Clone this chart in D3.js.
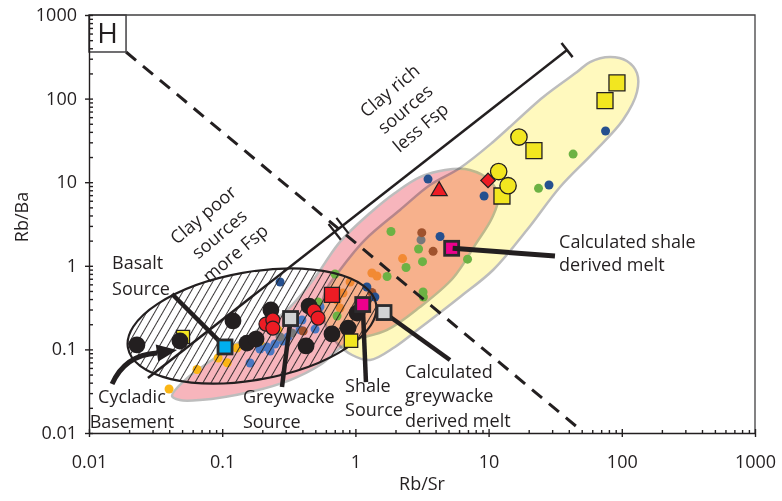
<!DOCTYPE html>
<html>
<head>
<meta charset="utf-8">
<script src="https://cdn.jsdelivr.net/npm/d3@7"></script>
<style>
  body { margin: 0; background: #fff; }
  svg { display: block; }
  text { font-family: "Open Sans", sans-serif; fill: #231f20; }
</style>
</head>
<body>
<svg id="chart" width="782" height="501"></svg>
<script>
// ---- axis ticks ----
const xTicks = [0.01, 0.1, 1, 10, 100, 1000];
const xTickLabels = ["0.01", "0.1", "1", "10", "100", "1000"];
const yTicks = [0.01, 0.1, 1, 10, 100, 1000];
const yTickLabels = ["0.01", "0.1", "1", "10", "100", "1000"];

// ---- fields (Rb/Sr, Rb/Ba) ----
const yellowField = [
  [81.6, 315], [57.7, 274], [46.1, 208], [25.6, 104], [10.8, 30.3], [6.10, 14.8],
  [3.63, 9.25], [2.16, 4.65], [1.18, 2.04], [0.766, 0.891], [0.592, 0.486], [0.561, 0.296],
  [0.612, 0.180], [0.728, 0.119], [0.944, 0.0857], [1.29, 0.0746], [1.98, 0.107],
  [3.05, 0.180], [6.10, 0.424], [10.8, 0.891], [19.4, 2.68], [34.4, 8.77], [60.8, 22.3],
  [102, 55.5], [130, 120], [130, 202], [109, 282]
];
const pinkField = [
  [0.042, 0.0277], [0.0526, 0.043], [0.0883, 0.0789], [0.162, 0.149], [0.296, 0.28],
  [0.481, 0.676], [0.766, 1.93], [1.29, 4.28], [1.98, 7.43], [3.05, 11.5], [4.71, 14.0],
  [7.24, 14.0], [10.3, 10.3], [11.8, 6.47], [10.6, 3.73], [7.91, 1.77], [5.41, 0.715],
  [3.05, 0.321], [1.73, 0.171], [0.865, 0.119], [0.542, 0.065], [0.323, 0.043],
  [0.162, 0.031], [0.068, 0.0248], [0.048, 0.0248]
];
const hatchedCentre = [0.1675, 0.1905];

// ---- reference lines ----
const clayLine = [[0.0277, 0.0455], [38.8, 381]];
const dashLine = [[0.01897, 361], [46.1, 0.0118]];

// ---- small dots ----
const darkBlueDots = [[75.5, 41.0], [28.4, 9.25], [9.25, 6.84], [3.51, 10.9], [4.32, 2.24], [1.22, 0.557], [1.40, 0.424], [0.272, 0.640]];
const greenDots = [[43.1, 21.7], [23.7, 8.45], [1.85, 2.57], [2.98, 1.59], [3.19, 1.12], [2.40, 0.955], [1.73, 0.745], [6.95, 1.20], [3.22, 0.486], [3.24, 0.424], [0.703, 0.798], [0.524, 0.369], [0.728, 0.251]];
const orangeDots = [[2.26, 1.22], [1.33, 0.820], [1.45, 0.755], [0.912, 0.640], [0.807, 0.473], [0.728, 0.390], [0.766, 0.313]];
const brownDots = [[3.15, 2.49], [3.83, 1.49], [1.33, 0.480], [0.405, 0.166]];
const grayDots = [[3.11, 2.04], [0.272, 0.141], [0.334, 0.157]];
const goldDots = [[0.0399, 0.0336], [0.0647, 0.0574], [0.0932, 0.0789], [0.109, 0.0693], [0.129, 0.104], [0.195, 0.113], [0.262, 0.171]];
const blueDots = [[0.162, 0.0687], [0.192, 0.101], [0.217, 0.107], [0.249, 0.116], [0.286, 0.126], [0.352, 0.207], [0.384, 0.171], [0.498, 0.175], [0.542, 0.324], [0.397, 0.225], [0.312, 0.141], [0.229, 0.0957]];

// ---- big symbols ----
const blackCircles = [[0.0229, 0.113], [0.0482, 0.126], [0.1205, 0.219], [0.1535, 0.119], [0.1795, 0.133], [0.232, 0.296], [0.426, 0.110], [0.449, 0.330], [0.667, 0.153], [0.881, 0.180], [1.03, 0.272]];
const redCircles = [[0.213, 0.201], [0.240, 0.225], [0.240, 0.180], [0.489, 0.288], [0.524, 0.237]];
const redSquares = [[0.667, 0.448]];
const redTriangles = [[4.25, 7.85]];
const redDiamonds = [[9.9, 10.5]];
const yellowSquares = [[92, 154], [74.8, 94.4], [21.9, 23.8], [12.6, 6.84]];
const yellowSmallSquares = [[0.927, 0.127]];
const yellowUnderSquares = [[0.0508, 0.141]];
const yellowCircles = [[16.9, 34.7], [11.9, 13.4], [14.0, 9.08]];

// sources and calculated melts
const sources = [
  { key: "basalt", x: 0.105, y: 0.107 },
  { key: "greywacke", x: 0.326, y: 0.234 },
  { key: "shale", x: 1.135, y: 0.344 },
  { key: "calcGreywacke", x: 1.64, y: 0.276 },
  { key: "calcShale", x: 5.28, y: 1.62 }
];
const leaders = [
  { key: "basalt", from: [0.042, 0.460] },
  { key: "greywacke", from: [0.281, 0.0355] },
  { key: "shale", from: [1.20, 0.0407] },
  { key: "calcGreywacke", from: [5.13, 0.0746] }
];
const shaleMeltLeader = { key: "calcShale", from: [31.5, 1.31] };
const basementArrow = [[0.0149, 0.0385], [0.0186, 0.0857], [0.0324, 0.0906], [0.0458, 0.0984]];

// ---- text ----
const labels = [
  { lines: ["Basalt", "Source"], at: [0.0149, 0.916], anchor: "start", lh: 26 },
  { lines: ["Cycladic", "Basement"], at: [0.021, 0.0229], anchor: "middle", lh: 25 },
  { lines: ["Greywacke", "Source"], at: [0.143, 0.0229], anchor: "start", lh: 25 },
  { lines: ["Shale", "Source"], at: [0.836, 0.0309], anchor: "start", lh: 24 },
  { lines: ["Calculated", "greywacke", "derived melt"], at: [2.36, 0.0455], anchor: "start", lh: 24.5 },
  { lines: ["Calculated shale", "derived melt"], at: [33.8, 1.63], anchor: "start", lh: 22.5 }
];
const slantLabels = [
  { lines: ["Clay rich", "sources", "less Fsp"], at: [2.36, 75.1], lh: 24 },
  { lines: ["Clay poor", "sources", "more Fsp"], at: [0.095, 2.40], lh: 25 }
];

const INK = "#231f20";
const sourceFill = { basalt: "#00aeef", greywacke: "#d1d3d4", shale: "#ec008c", calcGreywacke: "#d1d3d4", calcShale: "#ec008c" };

const svg = d3.select("#chart");
const x = d3.scaleLog().domain([0.01, 1000]).range([89, 755]);
const y = d3.scaleLog().domain([0.01, 1000]).range([433, 15]);
const px = d => x(d[0]), py = d => y(d[1]);

const defs = svg.append("defs");
defs.append("pattern")
    .attr("id", "hatch")
    .attr("width", 7).attr("height", 7)
    .attr("patternUnits", "userSpaceOnUse")
    .attr("patternTransform", "rotate(40)")
  .append("line")
    .attr("x1", 3.5).attr("x2", 3.5).attr("y1", -1).attr("y2", 8)
    .attr("stroke", INK).attr("stroke-width", 0.9);

// Fields: pink multiplied over yellow gives the orange overlap
const fieldLine = d3.line().x(px).y(py).curve(d3.curveCatmullRomClosed.alpha(0.5));
svg.append("path").attr("d", fieldLine(yellowField))
    .attr("fill", "#fff9be").attr("stroke", "#bdbdbd").attr("stroke-width", 2.5);
svg.append("path").attr("d", fieldLine(pinkField))
    .attr("fill", "#f7b5bc").attr("stroke", "#bdbdbd").attr("stroke-width", 2.5)
    .style("mix-blend-mode", "multiply");

// Small dots
function dots(data, color) {
    svg.append("g").selectAll("circle").data(data).join("circle")
        .attr("cx", px).attr("cy", py).attr("r", 4.5).attr("fill", color);
}
dots(goldDots, "#fbb616");
dots(blueDots, "#4a78c2");
dots(grayDots, "#77787b");
dots(brownDots, "#a0522d");
dots(orangeDots, "#f28a34");
dots(greenDots, "#6cb244");
dots(darkBlueDots, "#26508f");

// Hatched ellipse
const ec = [x(hatchedCentre[0]), y(hatchedCentre[1])];
svg.append("ellipse")
    .attr("cx", ec[0]).attr("cy", ec[1]).attr("rx", 126).attr("ry", 54)
    .attr("transform", `rotate(-10 ${ec[0]} ${ec[1]})`)
    .attr("fill", "url(#hatch)").attr("stroke", INK).attr("stroke-width", 2.2);

// Reference lines
const seg = d3.line().x(px).y(py);
svg.append("path").attr("d", seg(clayLine)).attr("stroke", INK).attr("stroke-width", 2.5).attr("fill", "none");
svg.append("path").attr("d", seg(dashLine)).attr("stroke", INK).attr("stroke-width", 3)
    .attr("stroke-dasharray", "13,9").attr("fill", "none");

// end bar on the clay line
const c0 = [px(clayLine[0]), py(clayLine[0])], c1 = [px(clayLine[1]), py(clayLine[1])];
const cl = Math.hypot(c1[0] - c0[0], c1[1] - c0[1]);
const cu = [(c1[0] - c0[0]) / cl, (c1[1] - c0[1]) / cl];
const cn = [-cu[1], cu[0]];
svg.append("line")
    .attr("x1", c1[0] - cn[0] * 9).attr("y1", c1[1] - cn[1] * 9)
    .attr("x2", c1[0] + cn[0] * 9).attr("y2", c1[1] + cn[1] * 9)
    .attr("stroke", INK).attr("stroke-width", 2.5);

// break marks where the two lines cross
const d0 = [px(dashLine[0]), py(dashLine[0])], d1 = [px(dashLine[1]), py(dashLine[1])];
const den = (c1[0] - c0[0]) * (d1[1] - d0[1]) - (c1[1] - c0[1]) * (d1[0] - d0[0]);
const tt = ((d0[0] - c0[0]) * (d1[1] - d0[1]) - (d0[1] - c0[1]) * (d1[0] - d0[0])) / den;
const ix = [c0[0] + tt * (c1[0] - c0[0]), c0[1] + tt * (c1[1] - c0[1])];
[-5, 5].forEach(o => {
    const m = [ix[0] + cu[0] * o, ix[1] + cu[1] * o];
    svg.append("line")
        .attr("x1", m[0] - cn[0] * 10).attr("y1", m[1] - cn[1] * 10)
        .attr("x2", m[0] + cn[0] * 10).attr("y2", m[1] + cn[1] * 10)
        .attr("stroke", INK).attr("stroke-width", 2.2);
});

// Big symbols
function symbols(data, type, size, fill, stroke, sw, rot) {
    svg.append("g").selectAll("path").data(data).join("path")
        .attr("d", d3.symbol().type(type).size(size))
        .attr("transform", d => `translate(${px(d)},${py(d)})${rot ? ` rotate(${rot})` : ""}`)
        .attr("fill", fill).attr("stroke", stroke).attr("stroke-width", sw);
}
symbols(yellowUnderSquares, d3.symbolSquare, 170, "#f2e620", INK, 1.3);
symbols(blackCircles, d3.symbolCircle, Math.PI * 8.4 * 8.4, INK, "none", 0);
symbols(redCircles, d3.symbolCircle, Math.PI * 7 * 7, "#ed1c24", INK, 1.2);
symbols(redSquares, d3.symbolSquare, 225, "#ed1c24", INK, 1.3);
symbols(yellowSmallSquares, d3.symbolSquare, 180, "#f2e620", INK, 1.3);
symbols(yellowSquares, d3.symbolSquare, 256, "#f2e620", INK, 1.3);
symbols(yellowCircles, d3.symbolCircle, Math.PI * 8.2 * 8.2, "#f2e620", INK, 1.3);
symbols(redTriangles, d3.symbolTriangle, 115, "#ed1c24", INK, 1.2);
symbols(redDiamonds, d3.symbolSquare, 105, "#ed1c24", INK, 1.2, 45);

// Leaders (under the squares)
const srcBy = new Map(sources.map(s => [s.key, s]));
svg.append("g").selectAll("line").data(leaders).join("line")
    .attr("x1", d => px(d.from)).attr("y1", d => py(d.from))
    .attr("x2", d => x(srcBy.get(d.key).x)).attr("y2", d => y(srcBy.get(d.key).y))
    .attr("stroke", INK).attr("stroke-width", 4.5);

// Source squares
svg.append("g").selectAll("rect").data(sources).join("rect")
    .attr("x", d => x(d.x) - 7).attr("y", d => y(d.y) - 7)
    .attr("width", 14).attr("height", 14)
    .attr("fill", d => sourceFill[d.key])
    .attr("stroke", "#2b2b2d").attr("stroke-width", 2.8);

// shale melt leader runs into its square
const sm = srcBy.get(shaleMeltLeader.key);
svg.append("line")
    .attr("x1", px(shaleMeltLeader.from)).attr("y1", py(shaleMeltLeader.from))
    .attr("x2", x(sm.x) + 1).attr("y2", y(sm.y))
    .attr("stroke", INK).attr("stroke-width", 5);

// Cycladic basement arrow
const a = basementArrow.map(d => [px(d), py(d)]);
svg.append("path")
    .attr("d", `M${a[0][0]},${a[0][1]} Q${a[1][0]},${a[1][1]} ${a[2][0]},${a[2][1]}`)
    .attr("fill", "none").attr("stroke", INK).attr("stroke-width", 5);
{
    const dx = a[3][0] - a[2][0], dy = a[3][1] - a[2][1], L = Math.hypot(dx, dy);
    const nx = -dy / L * 8.5, ny = dx / L * 8.5;
    svg.append("path")
        .attr("d", `M${a[3][0]},${a[3][1]} L${a[2][0] + nx},${a[2][1] + ny} L${a[2][0] - nx},${a[2][1] - ny}Z`)
        .attr("fill", INK);
}

// Labels
labels.forEach(l => {
    const t = svg.append("text")
        .attr("x", px(l.at)).attr("y", py(l.at))
        .attr("text-anchor", l.anchor).style("font-size", "18px");
    l.lines.forEach((s, i) => t.append("tspan").attr("x", px(l.at)).attr("dy", i ? l.lh : 0).text(s));
});
slantLabels.forEach(l => {
    const g = svg.append("g").attr("transform", `translate(${px(l.at)},${py(l.at)}) rotate(-40)`);
    l.lines.forEach((s, i) => g.append("text")
        .attr("x", 0).attr("y", (i - 1) * l.lh).attr("dy", "0.35em")
        .attr("text-anchor", "middle").style("font-size", "18px").text(s));
});

// H panel box at the start of the dashed line
const hb = [x(0.01), y(1000), d0[0], d0[1]];
svg.append("rect").attr("x", hb[0]).attr("y", hb[1]).attr("width", hb[2] - hb[0]).attr("height", hb[3] - hb[1])
    .attr("fill", "#fff").attr("stroke", "#414042").attr("stroke-width", 1.5);
svg.append("text").attr("x", (hb[0] + hb[2]) / 2).attr("y", (hb[1] + hb[3]) / 2 + 10)
    .attr("text-anchor", "middle").style("font-size", "28px").text("H");

// Frame
svg.append("path")
    .attr("d", `M${x(0.01)},${y(1000)}H${x(1000)}V${y(0.01)}`)
    .attr("fill", "none").attr("stroke", "#414042").attr("stroke-width", 1.3);

// Axes
const minor = [];
[0.01, 0.1, 1, 10, 100].forEach(d => { for (let k = 2; k <= 9; k++) minor.push(d * k); });

const xMinor = svg.append("g").attr("transform", `translate(0,${y(0.01)})`)
    .call(d3.axisBottom(x).tickValues(minor).tickSize(-3).tickFormat(""));
xMinor.select(".domain").remove();
const yMinor = svg.append("g").attr("transform", `translate(${x(0.01)},0)`)
    .call(d3.axisLeft(y).tickValues(minor).tickSize(-4).tickFormat(""));
yMinor.select(".domain").remove();

const xAxisG = svg.append("g").attr("transform", `translate(0,${y(0.01)})`)
    .call(d3.axisBottom(x).tickValues(xTicks).tickFormat((d, i) => xTickLabels[i]).tickSizeInner(4).tickSizeOuter(0));
xAxisG.selectAll(".tick line").attr("y1", -4);
xAxisG.selectAll(".tick text").attr("y", 22).style("font-size", "18px").style("font-family", "Open Sans").attr("fill", INK);

const yAxisG = svg.append("g").attr("transform", `translate(${x(0.01)},0)`)
    .call(d3.axisLeft(y).tickValues(yTicks).tickFormat((d, i) => yTickLabels[i]).tickSizeInner(4).tickSizeOuter(0));
yAxisG.selectAll(".tick line").attr("x1", 4);
yAxisG.selectAll(".tick text").attr("x", -12).attr("dy", "0.3em").style("font-size", "18px").style("font-family", "Open Sans").attr("fill", INK);

svg.selectAll(".domain, .tick line").attr("stroke", INK).attr("stroke-width", 1.4);

// Axis titles
svg.append("text").attr("x", (x(0.01) + x(1000)) / 2).attr("y", 490)
    .attr("text-anchor", "middle").style("font-size", "18px").text("Rb/Sr");
svg.append("text").attr("transform", `translate(28,${(y(0.01) + y(1000)) / 2 - 7}) rotate(-90)`)
    .attr("text-anchor", "middle").style("font-size", "18px").text("Rb/Ba");
</script>
</body>
</html>
